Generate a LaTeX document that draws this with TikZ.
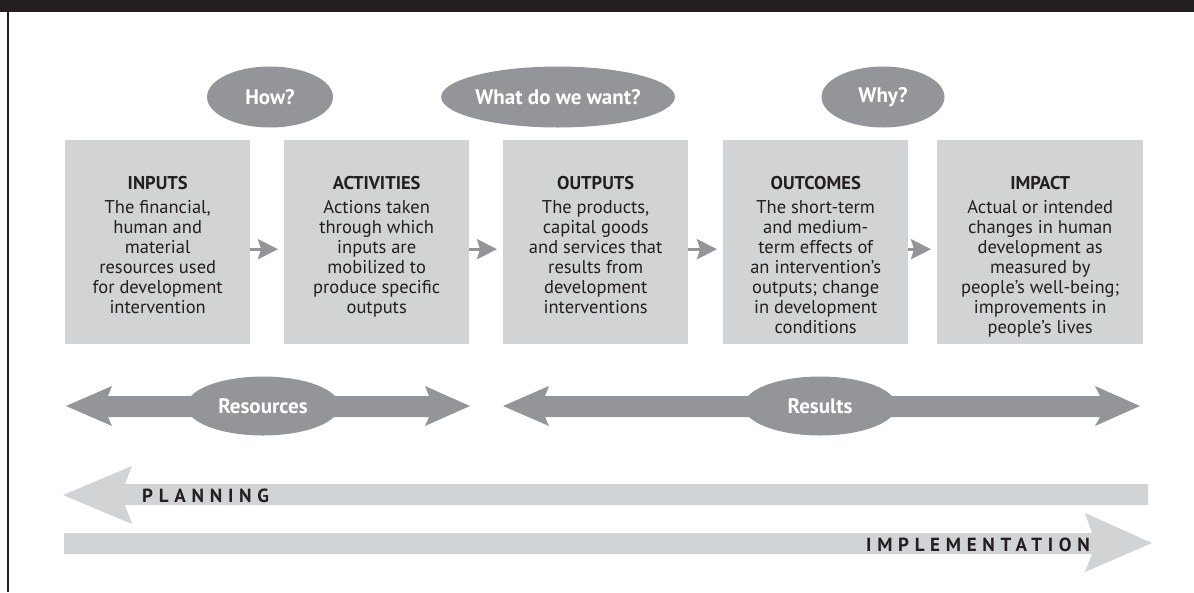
\documentclass[tikz,border=0pt]{standalone}
\usepackage{fontspec}
\setmainfont{PT Sans}
\usetikzlibrary{arrows.meta,shapes.geometric}
\definecolor{ink}{HTML}{231F20}
\definecolor{midgray}{HTML}{939598}
\definecolor{lightgray}{HTML}{D1D3D4}
\begin{document}
\begin{tikzpicture}[x=1pt,y=-1pt,
  stagebox/.style={fill=lightgray, draw=none, minimum width=185pt, minimum height=204pt,
    anchor=north west, inner sep=0pt},
  stagetext/.style={anchor=north, inner sep=0pt, align=center, text=ink,
    font=\fontsize{18.5}{20}\selectfont},
  bubble/.style={ellipse, fill=midgray, draw=none, inner sep=0pt, text=white,
    font=\bfseries\fontsize{21}{24}\selectfont},
  flow/.style={draw=midgray, line width=3pt,
    -{Stealth[length=20pt,width=20pt,inset=3pt]}, shorten >=6pt},
  band/.style={fill=midgray},
  lane/.style={fill=lightgray},
  lanetext/.style={text=ink, inner sep=0pt,
    font=\bfseries\fontsize{19}{20}\selectfont\addfontfeature{LetterSpace=30}}
]
\useasboundingbox (0,0) rectangle (1194,592);

% frame: top bar and left rule
\fill[ink] (0,0) rectangle (1194,12);
\draw[ink, line width=1.5pt] (8,12) -- (8,592);

% guiding questions
\node[bubble, minimum width=126pt, minimum height=61pt] (how) at (270,97) {How?};
\node[bubble, minimum width=223pt, minimum height=61pt] (what) at (558,97) {What do we want?};
\node[bubble, minimum width=123pt, minimum height=61pt] (why) at (883,97) {Why?};

% results chain boxes
\node[stagebox] (in) at (65,140) {};
\node[stagebox] (act) at (284,140) {};
\node[stagebox] (out) at (503,140) {};
\node[stagebox] (oc) at (723,140) {};
\node[stagebox, minimum width=206pt] (imp) at (937,140) {};

\node[stagetext] (in-t) at ([yshift=-36pt]in.north)
  {\textbf{INPUTS}\\[4pt] The financial,\\ human and\\ material\\ resources used\\ for development\\ intervention};
\node[stagetext] (act-t) at ([yshift=-36pt]act.north)
  {\textbf{ACTIVITIES}\\[4pt] Actions taken\\ through which\\ inputs are\\ mobilized to\\ produce specific\\ outputs};
\node[stagetext] (out-t) at ([yshift=-36pt]out.north)
  {\textbf{OUTPUTS}\\[4pt] The products,\\ capital goods\\ and services that\\ results from\\ development\\ interventions};
\node[stagetext] (oc-t) at ([yshift=-36pt]oc.north)
  {\textbf{OUTCOMES}\\[4pt] The short-term\\ and medium-\\ term effects of\\ an intervention’s\\ outputs; change\\ in development\\ conditions};
\node[stagetext] (imp-t) at ([yshift=-36pt]imp.north)
  {\textbf{IMPACT}\\[4pt] Actual or intended\\ changes in human\\ development as\\ measured by\\ people’s well-being;\\ improvements in\\ people’s lives};

% links between stages
\draw[flow] ([yshift=-7pt]in.east) -- ([yshift=-7pt]act.west);
\draw[flow] ([yshift=-7pt]act.east) -- ([yshift=-7pt]out.west);
\draw[flow] ([yshift=-7pt]out.east) -- ([yshift=-7pt]oc.west);
\draw[flow] ([yshift=-7pt]oc.east) -- ([yshift=-7pt]imp.west);

% resources / results double arrows
\fill[band] (66,406) -- (112,386) -- (108,396) -- (429,396) -- (425,386) -- (470,406)
  -- (425,426) -- (429,417) -- (108,417) -- (112,426) -- cycle;
\fill[band] (503,406) -- (549,386) -- (545,396) -- (1100,396) -- (1095,386) -- (1140,406)
  -- (1095,426) -- (1100,417) -- (545,417) -- (549,426) -- cycle;
\node[bubble, minimum width=153pt, minimum height=59pt] (res) at (263,406) {Resources};
\node[bubble, minimum width=153pt, minimum height=59pt] (rslt) at (820,406) {Results};

% planning and implementation lanes
\fill[lane] (63,495) -- (132,466) -- (125,484) -- (1148,484) -- (1148,505) -- (125,505)
  -- (132,524) -- cycle;
\fill[lane] (64,533) -- (1092,533) -- (1085,513) -- (1152,543) -- (1085,572) -- (1092,554)
  -- (64,554) -- cycle;
\node[lanetext, anchor=base west] (plan) at (142,502) {PLANNING};
\node[lanetext, anchor=base east] (impl) at (1090,551) {IMPLEMENTATION};
\end{tikzpicture}
\end{document}
